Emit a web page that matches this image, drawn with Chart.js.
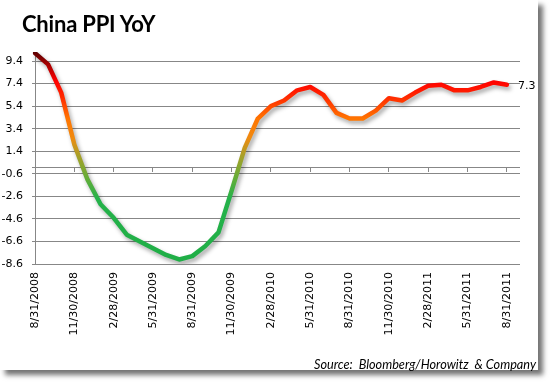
<!DOCTYPE html>
<html>
<head>
<meta charset="utf-8">
<script src="https://cdn.jsdelivr.net/npm/chart.js@4"></script>
<style>
  html, body { margin: 0; padding: 0; background: #fff; }
  #frame {
    position: absolute; left: 0; top: 0; width: 538px; height: 370px;
    background: #fff; box-shadow: 5px 5px 5px rgba(0,0,0,0.55);
  }
  #title {
    position: absolute; left: 22px; top: 10px; line-height: 22px;
    font: bold 22px Lato, sans-serif; letter-spacing: -0.2px; color: #000;
  }
  #source {
    position: absolute; right: 2px; top: 356px; line-height: 13px;
    font: italic 12.7px Lato, sans-serif; color: #000; white-space: pre;
  }
  canvas { position: absolute; left: 0; top: 0; }
</style>
</head>
<body>
<div id="frame">
  <canvas id="ppiChart" width="538" height="370"></canvas>
  <div id="title">China PPI YoY</div>
  <div id="source">Source:  Bloomberg/Horowitz  &amp; Company</div>
</div>
<script>
// month-end dates, one extra empty slot at the end like the original axis
const months = [
  '8/31/2008', '9/30/2008', '10/31/2008', '11/30/2008', '12/31/2008',
  '1/31/2009', '2/28/2009', '3/31/2009', '4/30/2009', '5/31/2009', '6/30/2009',
  '7/31/2009', '8/31/2009', '9/30/2009', '10/31/2009', '11/30/2009', '12/31/2009',
  '1/31/2010', '2/28/2010', '3/31/2010', '4/30/2010', '5/31/2010', '6/30/2010',
  '7/31/2010', '8/31/2010', '9/30/2010', '10/31/2010', '11/30/2010', '12/31/2010',
  '1/31/2011', '2/28/2011', '3/31/2011', '4/30/2011', '5/31/2011', '6/30/2011',
  '7/31/2011', '8/31/2011', '9/30/2011'
];

// PPI YoY %
const ppi = [
  10.1, 9.1, 6.6, 2.0, -1.1,
  -3.3, -4.5, -6.0, -6.6, -7.2, -7.8, -8.2, -7.9, -7.0, -5.8, -2.1, 1.7,
  4.3, 5.4, 5.9, 6.8, 7.1, 6.4, 4.8, 4.3, 4.3, 5.0, 6.1, 5.9,
  6.6, 7.2, 7.3, 6.8, 6.8, 7.1, 7.5, 7.3
];

// gridlines; 0 is the unlabelled axis line
const yTicks = [-8.6, -6.6, -4.6, -2.6, -0.6, 0, 1.4, 3.4, 5.4, 7.4, 9.4];

// value -> colour along the line
const colourStops = [
  [10.2, '#5a0000'],
  [9.2, '#a00000'],
  [7.6, '#ff0000'],
  [6.2, '#ff2a00'],
  [4.3, '#ff7400'],
  [2.6, '#f08a10'],
  [1.0, '#a8a028'],
  [-1.0, '#64ad38'],
  [-2.8, '#25b24a'],
  [-8.6, '#1fae46']
];

const GRID = '#878787';
const every3 = axis => { axis.ticks = axis.ticks.filter(t => t.value % 3 === 0); };

function lineGradient(chart) {
  const { ctx, chartArea, scales } = chart;
  if (!chartArea) return '#f00';
  const y = scales.y;
  const g = ctx.createLinearGradient(0, y.getPixelForValue(10.2), 0, y.getPixelForValue(-8.6));
  colourStops.forEach(([v, c]) => {
    g.addColorStop((10.2 - v) / (10.2 + 8.6), c);
  });
  return g;
}

const lineShadow = {
  id: 'lineShadow',
  beforeDatasetDraw(chart) {
    const ctx = chart.ctx;
    ctx.save();
    ctx.shadowColor = 'rgba(0,0,0,0.35)';
    ctx.shadowBlur = 4;
    ctx.shadowOffsetX = 2;
    ctx.shadowOffsetY = 3;
  },
  afterDatasetDraw(chart) {
    chart.ctx.restore();
  }
};

const lastLabel = {
  id: 'lastLabel',
  afterDatasetsDraw(chart) {
    const meta = chart.getDatasetMeta(0);
    const i = ppi.length - 1;
    const pt = meta.data[i];
    const ctx = chart.ctx;
    ctx.save();
    ctx.font = '11px "DejaVu Sans"';
    ctx.fillStyle = '#000';
    ctx.textBaseline = 'middle';
    ctx.fillText(ppi[i].toFixed(1), pt.x + 11, pt.y + 1);
    ctx.restore();
  }
};

new Chart(document.getElementById('ppiChart'), {
  type: 'line',
  data: {
    labels: months,
    datasets: [{
      data: ppi,
      borderColor: ctx => lineGradient(ctx.chart),
      borderWidth: 4.5,
      borderJoinStyle: 'round',
      borderCapStyle: 'round',
      pointRadius: 0,
      tension: 0,
      fill: false
    }]
  },
  options: {
    responsive: false,
    animation: false,
    layout: { padding: { left: 0, top: 52, right: 18, bottom: 0 } },
    plugins: { legend: { display: false }, tooltip: { enabled: false } },
    scales: {
      x: {
        type: 'category',
        position: 'bottom',
        afterBuildTicks: every3,
        afterFit: axis => { axis.height = 106; },
        grid: { display: false, drawTicks: false },
        border: { display: false },
        ticks: {
          autoSkip: false, minRotation: 90, maxRotation: 90, padding: 8,
          color: '#000', font: { family: 'DejaVu Sans', size: 11 }
        }
      },
      x2: {
        type: 'category',
        position: { y: 0 },
        afterBuildTicks: every3,
        afterFit: axis => { axis.height = 0; },
        grid: { drawOnChartArea: false, color: GRID, tickLength: 5 },
        border: { display: false },
        ticks: { display: false, autoSkip: false }
      },
      y: {
        min: -8.6,
        max: 10.2,
        afterBuildTicks: axis => { axis.ticks = yTicks.map(v => ({ value: v })); },
        afterFit: axis => { axis.width = 35; },
        grid: { color: GRID, tickLength: 3 },
        border: { display: true, color: GRID },
        ticks: {
          padding: 9, color: '#000',
          font: { family: 'DejaVu Sans', size: 11 },
          callback: v => (v === 0 ? '' : v.toFixed(1))
        }
      }
    }
  },
  plugins: [lineShadow, lastLabel]
});
</script>
</body>
</html>
